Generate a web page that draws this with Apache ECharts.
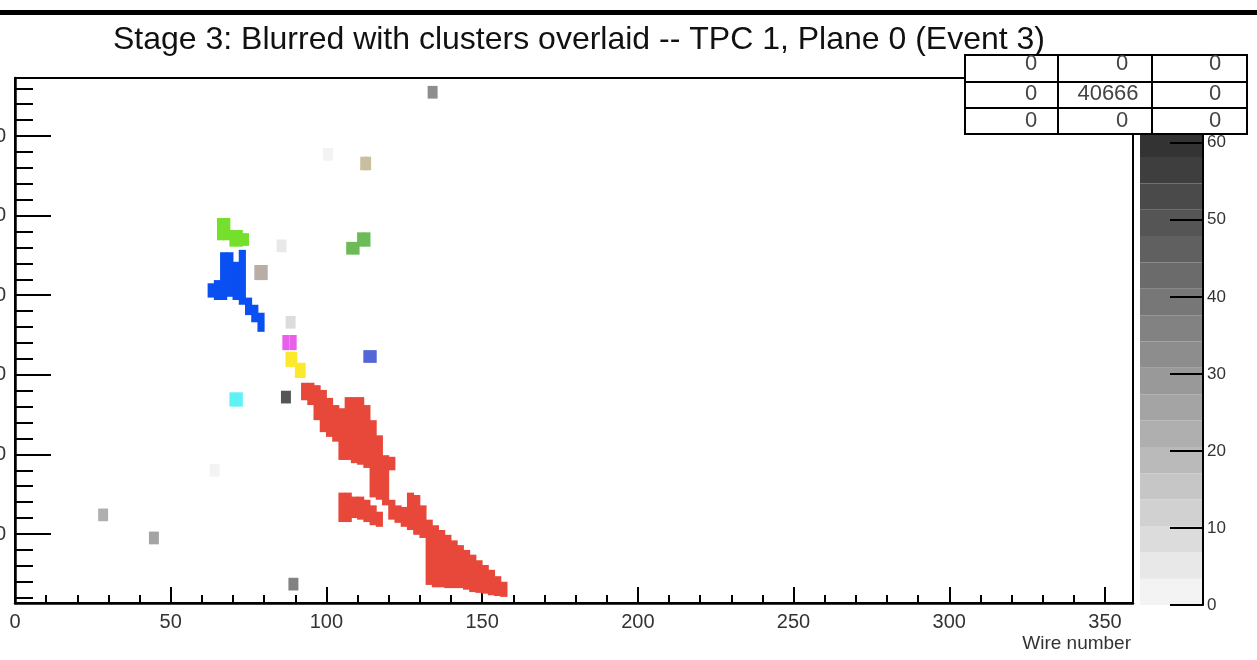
<!DOCTYPE html>
<html><head><meta charset="utf-8">
<script src="https://cdn.jsdelivr.net/npm/echarts@6/dist/echarts.min.js"></script>
<style>html,body{margin:0;padding:0;background:#fff;}#c{width:1257px;height:660px;}</style>
</head><body><div id="c"></div>
<script>
// ---------- texts & ticks ----------
const titleText = 'Stage 3: Blurred with clusters overlaid -- TPC 1, Plane 0 (Event 3)';
const xAxisName = 'Wire number';
const wireMajorTicks = [0, 50, 100, 150, 200, 250, 300, 350];
const wireMinorTicks = [10, 20, 30, 40, 60, 70, 80, 90, 110, 120, 130, 140, 160, 170, 180, 190,
  210, 220, 230, 240, 260, 270, 280, 290, 310, 320, 330, 340];
const tickMajorValues = [100, 200, 300, 400, 500, 600];
const tickMinorValues = [20, 40, 60, 80, 120, 140, 160, 180, 220, 240, 260, 280, 320, 340, 360, 380,
  420, 440, 460, 480, 520, 540, 560, 580, 620, 640, 660];
const chargeTicks = [0, 10, 20, 30, 40, 50, 60];
const statsRow1 = ['0', '0', '0'];
const statsRow2 = ['0', '40666', '0'];
const statsRow3 = ['0', '0', '0'];

// ---------- data: cluster columns [wire, tickLow, tickHigh] ----------
const redCluster = [
  [93, 268, 290], [95, 262, 290], [97, 243, 287], [99, 228, 281], [101, 222, 271], [103, 216, 262],
  [105, 193, 258], [107, 193, 272], [109, 189, 272], [111, 187, 272], [113, 183, 262], [115, 146, 243],
  [117, 143, 224], [119, 136, 199], [121, 180, 197], [121, 118, 143], [123, 114, 136], [125, 109, 134],
  [127, 105, 152], [129, 99, 149], [131, 95, 136], [133, 36, 118], [135, 33, 111], [137, 33, 105],
  [139, 32, 99], [141, 32, 92], [143, 32, 86], [145, 30, 80], [147, 27, 74], [149, 26, 67],
  [151, 25, 61], [153, 23, 55], [155, 22, 47], [157, 21, 40],
  [105, 115, 152], [107, 115, 152], [109, 120, 147], [111, 118, 147], [113, 115, 143],
  [115, 111, 136], [117, 109, 128]
];
const blueCluster = [
  [63, 397, 415], [65, 394, 419], [67, 394, 454], [69, 398, 454], [71, 394, 442],
  [73, 388, 457], [75, 375, 397], [77, 366, 388], [79, 354, 378]
];
const lightGreenCluster = [[66, 469, 497], [68, 469, 497], [70, 461, 482], [72, 461, 482], [74, 462, 478]];
const midGreenCluster = [[107.5, 451, 467], [109.5, 451, 467], [111, 461, 479], [113, 461, 479]];
const slateBlueCluster = [[113, 315, 331], [115, 315, 331]];
const magentaCluster = [[87, 331, 350], [89.3, 331, 350]];
const yellowCluster = [[88, 310, 329], [89.5, 310, 329], [91, 296, 315], [92.2, 296, 315]];
const cyanCluster = [[70, 260, 278], [72, 260, 278]];
const tanCluster = [[112, 557, 574], [113.2, 557, 574]];
const taupeCluster = [[78, 419, 438], [80, 419, 438]];

// ---------- data: unclustered blurred hits [wire, tick, charge] ----------
const greyHits = [
  [134.1, 655, 33], [100.5, 577, 2], [85.6, 462, 6], [88.5, 366, 10], [87.0, 272, 48],
  [64.1, 180, 1.5], [28.3, 124, 23], [44.6, 95, 25], [89.4, 37, 37]
];

// ---------- styles ----------
const greyPalette = ['#f3f3f3', '#e8e8e8', '#dcdcdc', '#d1d1d1', '#c6c6c6', '#bababa', '#afafaf',
  '#a4a4a4', '#999999', '#8d8d8d', '#828282', '#777777', '#6b6b6b', '#606060', '#555555', '#4a4a4a',
  '#3e3e3e', '#333333', '#282828', '#1c1c1c'];
const chargeMax = 68.4;
const clusterColors = {
  red: '#e8483a', blue: '#0a4ff2', lightGreen: '#74e02c', midGreen: '#6cbb57', slate: '#5366d8',
  magenta: '#e860ea', yellow: '#fce92c', cyan: '#5ef2f4', tan: '#c9bf9f', taupe: '#b9aea6'
};
const FONT = 'Liberation Sans, Arial, Helvetica, sans-serif';
const COL_HALF = 1.15;  // half width of a column in wires
const HIT_HALF_W = 1.6; // half width of a hit cell in wires
const HIT_HALF_H = 8;   // half height of a hit cell in ticks

function columnSeries(name, data, color) {
  return {
    type: 'custom', name, xAxisIndex: 0, yAxisIndex: 0, data, clip: true,
    encode: { x: 0, y: [1, 2] },
    renderItem(params, api) {
      const w = api.value(0), lo = api.value(1), hi = api.value(2);
      const a = api.coord([w - COL_HALF, hi]);
      const b = api.coord([w + COL_HALF, lo]);
      return { type: 'rect', shape: { x: a[0], y: a[1], width: b[0] - a[0], height: b[1] - a[1] }, style: { fill: color } };
    }
  };
}

const chargeStep = chargeMax / greyPalette.length;
const colorbarBands = greyPalette.map((c, i) => [i * chargeStep, (i + 1) * chargeStep, i]);
const pieces = greyPalette.map((c, i) => ({ gte: i * chargeStep, lt: (i + 1) * chargeStep, color: c }));

const series = [
  {
    type: 'custom', name: 'hits', xAxisIndex: 0, yAxisIndex: 0, data: greyHits, clip: true,
    encode: { x: 0, y: 1 },
    renderItem(params, api) {
      const w = api.value(0), t = api.value(1);
      const a = api.coord([w - HIT_HALF_W, t + HIT_HALF_H]);
      const b = api.coord([w + HIT_HALF_W, t - HIT_HALF_H]);
      return { type: 'rect', shape: { x: a[0], y: a[1], width: b[0] - a[0], height: b[1] - a[1] }, style: { fill: api.visual('color') } };
    }
  },
  columnSeries('red', redCluster, clusterColors.red),
  columnSeries('blue', blueCluster, clusterColors.blue),
  columnSeries('lightGreen', lightGreenCluster, clusterColors.lightGreen),
  columnSeries('midGreen', midGreenCluster, clusterColors.midGreen),
  columnSeries('slate', slateBlueCluster, clusterColors.slate),
  columnSeries('magenta', magentaCluster, clusterColors.magenta),
  columnSeries('yellow', yellowCluster, clusterColors.yellow),
  columnSeries('cyan', cyanCluster, clusterColors.cyan),
  columnSeries('tan', tanCluster, clusterColors.tan),
  columnSeries('taupe', taupeCluster, clusterColors.taupe),
  {
    type: 'custom', name: 'palette', xAxisIndex: 2, yAxisIndex: 2, data: colorbarBands, clip: false, z: 1,
    encode: { y: [0, 1] },
    renderItem(params, api) {
      const lo = api.value(0), hi = api.value(1), idx = api.value(2);
      const a = api.coord([0, hi]);
      const b = api.coord([1, lo]);
      return { type: 'rect', shape: { x: a[0], y: a[1], width: b[0] - a[0], height: b[1] - a[1] }, style: { fill: greyPalette[idx] } };
    }
  }
];

const blackLine = { color: '#000', width: 2 };
const stats = [statsRow1, statsRow2, statsRow3];
const statsColX = [1031, 1108, 1215];
const statsColXZero = [1031, 1122, 1215];
const statsRowY = [64, 94, 121];
const statsTexts = [];
stats.forEach((row, r) => row.forEach((txt, c) => {
  statsTexts.push({
    type: 'text', z: 101,
    style: { text: txt, x: (txt === '0' ? statsColXZero[c] : statsColX[c]), y: statsRowY[r], align: 'center', verticalAlign: 'middle',
      fill: '#444', font: '22px ' + FONT }
  });
}));

const option = {
  animation: false,
  backgroundColor: '#fff',
  title: { text: titleText, left: 108, top: 19, textStyle: { fontFamily: FONT, fontSize: 32, fontWeight: 'normal', color: '#111' } },
  grid: [
    { left: 15, right: 124, top: 78, bottom: 57, containLabel: false, outerBoundsMode: 'none',
      show: true, borderColor: '#000', borderWidth: 2, backgroundColor: 'transparent' },
    { left: 1140, right: 54, top: 78, bottom: 55, containLabel: false, outerBoundsMode: 'none', show: false }
  ],
  xAxis: [
    { type: 'value', gridIndex: 0, min: 0, max: 359, position: 'bottom',
      name: xAxisName, nameLocation: 'end', nameGap: -2,
      nameTextStyle: { fontFamily: FONT, fontSize: 19, color: '#333', align: 'right', verticalAlign: 'top', padding: [31, 0, 0, 0] },
      axisLine: { show: true, onZero: false, lineStyle: { color: '#000', width: 2.5 } },
      axisTick: { show: true, inside: true, length: 16, customValues: wireMajorTicks, lineStyle: blackLine },
      axisLabel: { show: true, customValues: wireMajorTicks, margin: 9, fontFamily: FONT, fontSize: 20, color: '#333' },
      splitLine: { show: false } },
    { type: 'value', gridIndex: 0, min: 0, max: 359, position: 'bottom',
      axisLine: { show: false, onZero: false },
      axisTick: { show: true, inside: true, length: 8, customValues: wireMinorTicks, lineStyle: blackLine },
      axisLabel: { show: false }, splitLine: { show: false } },
    { type: 'value', gridIndex: 1, min: 0, max: 1, show: false, axisLine: { onZero: false } }
  ],
  yAxis: [
    { type: 'value', gridIndex: 0, min: 13.3, max: 672.9, position: 'left',
      axisLine: { show: true, onZero: false, lineStyle: { color: '#000', width: 2.5 } },
      axisTick: { show: true, inside: true, length: 36, customValues: tickMajorValues, lineStyle: blackLine },
      axisLabel: { show: true, customValues: tickMajorValues, margin: 9, fontFamily: FONT, fontSize: 20, color: '#333' },
      splitLine: { show: false } },
    { type: 'value', gridIndex: 0, min: 13.3, max: 672.9, position: 'left',
      axisLine: { show: false, onZero: false },
      axisTick: { show: true, inside: true, length: 18, customValues: tickMinorValues, lineStyle: blackLine },
      axisLabel: { show: false }, splitLine: { show: false } },
    { type: 'value', gridIndex: 1, min: 0, max: chargeMax, position: 'right', z: 10,
      axisLine: { show: true, onZero: false, lineStyle: { color: '#000', width: 2 } },
      axisTick: { show: true, inside: true, length: 33, customValues: chargeTicks, lineStyle: blackLine },
      axisLabel: { show: true, customValues: chargeTicks, margin: 4, fontFamily: FONT, fontSize: 17, color: '#333' },
      splitLine: { show: false } }
  ],
  visualMap: [{ type: 'piecewise', show: false, seriesIndex: 0, dimension: 2, pieces }],
  graphic: [
    { type: 'rect', z: 100, shape: { x: 0, y: 10, width: 1257, height: 5 }, style: { fill: '#000' } },
    { type: 'rect', z: 100, shape: { x: 965, y: 55, width: 282, height: 79 }, style: { fill: '#fff', stroke: '#000', lineWidth: 2 } },
    { type: 'line', z: 101, shape: { x1: 1058, y1: 55, x2: 1058, y2: 134 }, style: { stroke: '#000', lineWidth: 2 } },
    { type: 'line', z: 101, shape: { x1: 1152, y1: 55, x2: 1152, y2: 134 }, style: { stroke: '#000', lineWidth: 2 } },
    { type: 'line', z: 101, shape: { x1: 965, y1: 82, x2: 1247, y2: 82 }, style: { stroke: '#000', lineWidth: 2 } },
    { type: 'line', z: 101, shape: { x1: 965, y1: 108, x2: 1247, y2: 108 }, style: { stroke: '#000', lineWidth: 2 } }
  ].concat(statsTexts),
  series
};
const chart = echarts.init(document.getElementById('c'), null, { renderer: 'canvas' });
chart.setOption(option);
</script></body></html>
